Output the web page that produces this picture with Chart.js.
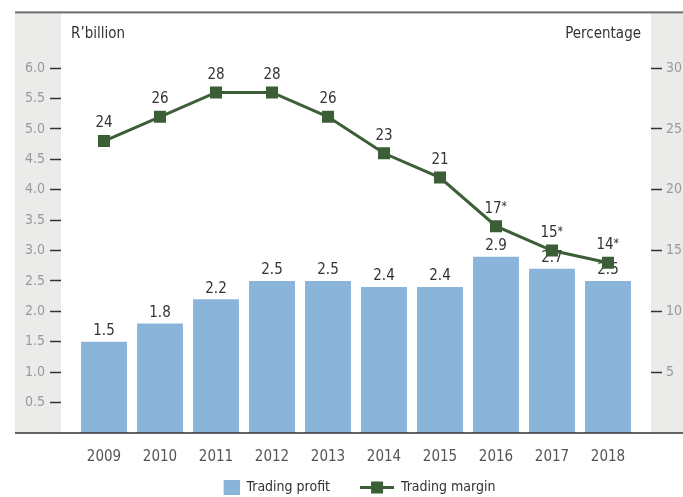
<!DOCTYPE html>
<html>
<head>
<meta charset="utf-8">
<script src="https://cdn.jsdelivr.net/npm/chart.js@4"></script>
<style>
  body { margin: 0; background: #fff; }
</style>
</head>
<body>
<canvas id="chart" width="683" height="497"></canvas>
<script>
// data
const years = ["2009", "2010", "2011", "2012", "2013", "2014", "2015", "2016", "2017", "2018"];
const tradingProfit = [1.5, 1.8, 2.2, 2.5, 2.5, 2.4, 2.4, 2.9, 2.7, 2.5];
const tradingMargin = [24, 26, 28, 28, 26, 23, 21, 17, 15, 14];
const starredYears = ["2016", "2017", "2018"];
const leftTicks = [0.5, 1.0, 1.5, 2.0, 2.5, 3.0, 3.5, 4.0, 4.5, 5.0, 5.5, 6.0];
const rightTicks = [5, 10, 15, 20, 25, 30];

const FONT = "'Liberation Sans Narrow', 'DejaVu Sans Condensed', sans-serif";
const barColor = "#8ab4d9";
const lineColor = "#3b5e36";
const panelColor = "#ebebea";

// legend icons, drawn right-aligned in a 52px box
function makeIcon(kind) {
    const c = document.createElement("canvas");
    c.width = 52;
    c.height = 15;
    const g = c.getContext("2d");
    if (kind == "bar") {
        g.fillStyle = barColor;
        g.fillRect(36, 0, 16, 15);
    } else {
        g.strokeStyle = lineColor;
        g.lineWidth = 3;
        g.beginPath();
        g.moveTo(18, 7.5);
        g.lineTo(52, 7.5);
        g.stroke();
        g.fillStyle = lineColor;
        g.fillRect(29, 1.5, 12, 12);
    }
    return c;
}
const profitIcon = makeIcon("bar");
const marginIcon = makeIcon("line");

const framePlugin = {
    id: "frame",
    beforeDraw(chart) {
        const ctx = chart.ctx;
        const a = chart.chartArea;
        ctx.save();
        ctx.fillStyle = panelColor;
        ctx.fillRect(15, a.top, a.left - 15, a.bottom - a.top);
        ctx.fillRect(a.right, a.top, chart.width - a.right, a.bottom - a.top);
        ctx.fillStyle = "#6b6b6b";
        ctx.fillRect(15, a.top - 2, chart.width - 15, 2);
        ctx.fillStyle = "#333";
        ctx.font = "15px " + FONT;
        ctx.textBaseline = "alphabetic";
        ctx.textAlign = "left";
        ctx.fillText("R\u2019billion", a.left + 10, a.top + 25);
        ctx.textAlign = "right";
        ctx.fillText("Percentage", a.right - 10, a.top + 25);
        ctx.restore();
    },
    afterDatasetDraw(chart, args) {
        const ctx = chart.ctx;
        const meta = args.meta;
        ctx.save();
        ctx.fillStyle = "#333";
        ctx.font = "15px " + FONT;
        ctx.textAlign = "center";
        ctx.textBaseline = "bottom";
        if (args.index == 0) {
            meta.data.forEach((bar, i) => {
                ctx.fillText(tradingProfit[i].toFixed(1), bar.x, bar.y - 3);
            });
        } else {
            meta.data.forEach((pt, i) => {
                const txt = String(tradingMargin[i]);
                if (starredYears.includes(years[i])) {
                    const w = ctx.measureText(txt).width;
                    ctx.fillText(txt, pt.x - 3, pt.y - 10);
                    ctx.font = "12px " + FONT;
                    ctx.textAlign = "left";
                    ctx.fillText("*", pt.x - 3 + w / 2, pt.y - 13);
                    ctx.font = "15px " + FONT;
                    ctx.textAlign = "center";
                } else {
                    ctx.fillText(txt, pt.x, pt.y - 10);
                }
            });
        }
        ctx.restore();
    },
    afterDraw(chart) {
        const ctx = chart.ctx;
        const a = chart.chartArea;
        ctx.save();
        ctx.strokeStyle = "#333";
        ctx.lineWidth = 1.5;
        ctx.beginPath();
        ctx.moveTo(15, a.bottom);
        ctx.lineTo(chart.width, a.bottom);
        ctx.stroke();
        ctx.restore();
    }
};

new Chart(document.getElementById("chart"), {
    type: "bar",
    data: {
        datasets: [
            {
                type: "bar",
                label: "Trading profit",
                data: tradingProfit.map((v, i) => ({ x: i, y: v })),
                backgroundColor: barColor,
                categoryPercentage: 1,
                barPercentage: 0.82,
                yAxisID: "y",
                order: 2
            },
            {
                type: "line",
                label: "Trading margin",
                data: tradingMargin.map((v, i) => ({ x: i, y: v })),
                borderColor: lineColor,
                borderWidth: 3,
                pointStyle: "rect",
                pointRadius: 8.5,
                pointBorderWidth: 0,
                pointBackgroundColor: lineColor,
                yAxisID: "y2",
                order: 1
            }
        ]
    },
    options: {
        responsive: false,
        animation: false,
        layout: { padding: { top: 12, left: 0, right: 0, bottom: 0 } },
        plugins: {
            tooltip: { enabled: false },
            legend: {
                position: "bottom",
                maxHeight: 28.5,
                labels: {
                    usePointStyle: true,
                    pointStyleWidth: 52,
                    boxHeight: 15,
                    padding: 12,
                    color: "#333",
                    font: { family: FONT, size: 14 },
                    generateLabels: () => [
                        { text: "Trading profit", pointStyle: profitIcon, fillStyle: barColor, strokeStyle: barColor, lineWidth: 0, hidden: false, datasetIndex: 0, fontColor: "#333" },
                        { text: "Trading margin", pointStyle: marginIcon, fillStyle: lineColor, strokeStyle: lineColor, lineWidth: 0, hidden: false, datasetIndex: 1, fontColor: "#333" }
                    ]
                }
            }
        },
        scales: {
            x: {
                type: "linear",
                offset: false,
                min: -0.768,
                max: 9.768,
                afterBuildTicks: (scale) => { scale.ticks = years.map((y, i) => ({ value: i })); },
                afterFit: (scale) => { scale.height = 35.5; },
                grid: { display: false, drawTicks: false },
                border: { display: false },
                ticks: {
                    padding: 15,
                    color: "#555",
                    font: { family: FONT, size: 15 },
                    callback: (v) => years[v]
                }
            },
            y: {
                position: "left",
                min: 0,
                max: 6.9,
                afterBuildTicks: (scale) => { scale.ticks = leftTicks.map((v) => ({ value: v })); },
                afterFit: (scale) => { scale.width = 61; },
                grid: { drawOnChartArea: false, drawTicks: true, tickLength: 11, tickColor: "#333", tickWidth: 1.5 },
                border: { display: false },
                ticks: {
                    padding: 5,
                    color: "#9a9a9a",
                    font: { family: FONT, size: 14 },
                    callback: (v) => v.toFixed(1)
                }
            },
            y2: {
                position: "right",
                min: 0,
                max: 34.5,
                afterBuildTicks: (scale) => { scale.ticks = rightTicks.map((v) => ({ value: v })); },
                afterFit: (scale) => { scale.width = 32; },
                grid: { drawOnChartArea: false, drawTicks: true, tickLength: 11, tickColor: "#333", tickWidth: 1.5 },
                border: { display: false },
                ticks: {
                    padding: 4,
                    color: "#9a9a9a",
                    font: { family: FONT, size: 14 },
                    callback: (v) => String(v)
                }
            }
        }
    },
    plugins: [framePlugin]
});
</script>
</body>
</html>
